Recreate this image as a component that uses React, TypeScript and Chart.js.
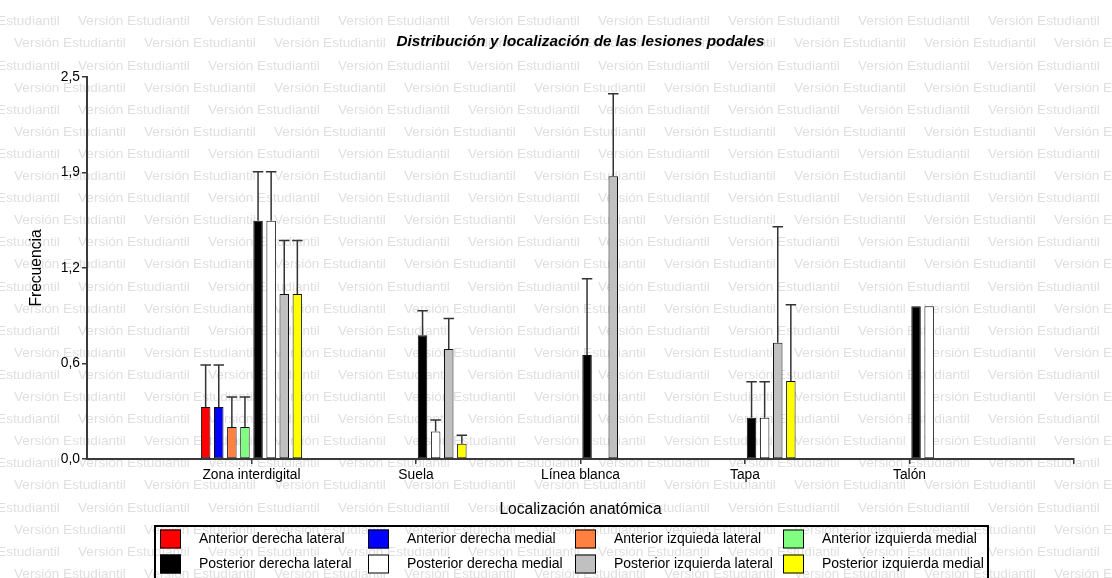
import React, { useEffect, useRef } from 'react';
import Chart from 'chart.js/auto';

const chartTitle = 'Distribución y localización de las lesiones podales';
const xTitle = 'Localización anatómica';
const yTitle = 'Frecuencia';
const watermarkText = 'Versión Estudiantil';

const categories = ['Zona interdigital', 'Suela', 'Línea blanca', 'Tapa', 'Talón'];
const yTickValues = [0, 0.625, 1.25, 1.875, 2.5];
const yTickLabels = ['0,0', '0,6', '1,2', '1,9', '2,5'];

const seriesLabels = [
  'Anterior derecha lateral',
  'Anterior derecha medial',
  'Anterior izquieda lateral',
  'Anterior izquierda medial',
  'Posterior derecha lateral',
  'Posterior derecha medial',
  'Posterior izquierda lateral',
  'Posterior izquierda medial',
];
const seriesColors = ['#ff0000', '#0000ff', '#ff8040', '#80ff80', '#000000', '#ffffff', '#c0c0c0', '#ffff00'];

// means
const anteriorDerechaLateral = [0.34, null, null, null, null];
const anteriorDerechaMedial = [0.34, null, null, null, null];
const anteriorIzquierdaLateral = [0.21, null, null, null, null];
const anteriorIzquierdaMedial = [0.21, null, null, null, null];
const posteriorDerechaLateral = [1.56, 0.81, 0.68, 0.27, 1.0];
const posteriorDerechaMedial = [1.56, 0.18, null, 0.27, 1.0];
const posteriorIzquierdaLateral = [1.08, 0.72, 1.85, 0.76, null];
const posteriorIzquierdaMedial = [1.08, 0.1, null, 0.51, null];

// error (upper) values
const anteriorDerechaLateralErr = [0.275, null, null, null, null];
const anteriorDerechaMedialErr = [0.275, null, null, null, null];
const anteriorIzquierdaLateralErr = [0.195, null, null, null, null];
const anteriorIzquierdaMedialErr = [0.195, null, null, null, null];
const posteriorDerechaLateralErr = [0.32, 0.16, 0.5, 0.235, 0];
const posteriorDerechaMedialErr = [0.32, 0.075, null, 0.235, 0];
const posteriorIzquierdaLateralErr = [0.35, 0.2, 0.54, 0.76, null];
const posteriorIzquierdaMedialErr = [0.35, 0.055, null, 0.5, null];

const seriesValues = [
  anteriorDerechaLateral,
  anteriorDerechaMedial,
  anteriorIzquierdaLateral,
  anteriorIzquierdaMedial,
  posteriorDerechaLateral,
  posteriorDerechaMedial,
  posteriorIzquierdaLateral,
  posteriorIzquierdaMedial,
];
const seriesErrors = [
  anteriorDerechaLateralErr,
  anteriorDerechaMedialErr,
  anteriorIzquierdaLateralErr,
  anteriorIzquierdaMedialErr,
  posteriorDerechaLateralErr,
  posteriorDerechaMedialErr,
  posteriorIzquierdaLateralErr,
  posteriorIzquierdaMedialErr,
];

const FONT = '"Liberation Sans", Arial, sans-serif';
const AXIS_COLOR = '#3a3a3a';

const watermarkPlugin = {
  id: 'watermark',
  beforeDraw(chart: any) {
    const ctx = chart.ctx;
    ctx.save();
    ctx.fillStyle = '#ffffff';
    ctx.fillRect(0, 0, chart.width, chart.height);
    ctx.font = `13.6px ${FONT}`;
    ctx.fillStyle = '#dfdfdf';
    ctx.textBaseline = 'middle';
    ctx.textAlign = 'left';
    for (let k = 0; k < 27; k++) {
      const y = 21.6 + 22.1 * k;
      const start = k % 2 === 0 ? 78 - 130 : 14;
      for (let x = start; x < chart.width; x += 130) {
        ctx.fillText(watermarkText, x, y);
      }
    }
    ctx.restore();
  },
};

const errorBarPlugin = {
  id: 'errorBars',
  afterDatasetsDraw(chart: any) {
    const ctx = chart.ctx;
    const yScale = chart.scales.y;
    chart.data.datasets.forEach((ds: any, di: number) => {
      const meta = chart.getDatasetMeta(di);
      meta.data.forEach((el: any, i: number) => {
        const v = ds.data[i];
        const e = ds.errors ? ds.errors[i] : null;
        if (v == null || !e) return;
        const top = yScale.getPixelForValue(v + e);
        const half = el.width / 2 + 0.5;
        ctx.save();
        ctx.strokeStyle = '#333333';
        ctx.lineWidth = 1.5;
        ctx.beginPath();
        ctx.moveTo(el.x, el.y);
        ctx.lineTo(el.x, top);
        ctx.moveTo(el.x - half, top);
        ctx.lineTo(el.x + half, top);
        ctx.stroke();
        ctx.restore();
      });
    });
  },
};

const titleLegendPlugin = {
  id: 'titleLegend',
  afterDraw(chart: any) {
    const ctx = chart.ctx;
    const area = chart.chartArea;
    ctx.save();
    // title
    ctx.font = `italic bold 15.3px ${FONT}`;
    ctx.fillStyle = '#000000';
    ctx.textAlign = 'center';
    ctx.textBaseline = 'middle';
    ctx.fillText(chartTitle, (area.left + area.right) / 2, 42);

    // legend
    ctx.lineWidth = 2;
    ctx.strokeStyle = '#000000';
    ctx.strokeRect(155, 526, 833, 60);
    const colX = [160, 368, 575, 783];
    const rowY = [529.5, 554.5];
    ctx.font = `14px ${FONT}`;
    ctx.textAlign = 'left';
    chart.data.datasets.forEach((ds: any, i: number) => {
      const col = i % 4;
      const row = Math.floor(i / 4);
      const x = colX[col];
      const y = rowY[row];
      ctx.fillStyle = ds.backgroundColor;
      ctx.fillRect(x, y, 21, 19);
      ctx.lineWidth = 1;
      ctx.strokeStyle = '#000000';
      ctx.strokeRect(x + 0.5, y + 0.5, 20, 18);
      ctx.fillStyle = '#000000';
      ctx.fillText(ds.label, x + 39, y + 10);
    });
    ctx.restore();
  },
};

export default function App() {
  const canvasRef = useRef<HTMLCanvasElement | null>(null);

  useEffect(() => {
    if (!canvasRef.current) return;
    const labels = ['', ...categories, ''];
    const datasets = seriesLabels.map((label, i) => ({
      label,
      data: [null, ...seriesValues[i], null],
      errors: [null, ...seriesErrors[i], null],
      backgroundColor: seriesColors[i],
      borderColor: '#111111',
      borderWidth: 1,
      borderSkipped: false,
      categoryPercentage: 0.637,
      barPercentage: 0.725,
    }));

    const chart = new Chart(canvasRef.current, {
      type: 'bar',
      data: { labels, datasets: datasets as any },
      options: {
        responsive: false,
        animation: false,
        devicePixelRatio: 1,
        layout: { padding: { left: 0, right: 38, top: 77, bottom: 0 } },
        plugins: {
          legend: { display: false },
          title: { display: false },
          tooltip: { enabled: false },
        },
        scales: {
          x: {
            type: 'category',
            offset: false,
            grid: {
              display: true,
              offset: false,
              drawOnChartArea: false,
              drawTicks: true,
              tickLength: 5,
              lineWidth: 1.5,
              color: (c: any) => (c.index === 0 ? 'rgba(0,0,0,0)' : AXIS_COLOR),
            },
            border: { display: true, color: AXIS_COLOR, width: 2 },
            ticks: {
              color: '#000000',
              font: { family: FONT, size: 13.8 },
              padding: 3,
              autoSkip: false,
              maxRotation: 0,
            },
            title: {
              display: true,
              text: xTitle,
              color: '#000000',
              font: { family: FONT, size: 15.6 },
              padding: { top: 0, bottom: 58.5 },
            },
            afterFit: (scale: any) => {
              scale.height = 119;
            },
          },
          y: {
            min: 0,
            max: 2.5,
            afterBuildTicks: (scale: any) => {
              scale.ticks = yTickValues.map((v) => ({ value: v }));
            },
            grid: {
              display: true,
              drawOnChartArea: false,
              drawTicks: true,
              tickLength: 5,
              lineWidth: 1.5,
              color: AXIS_COLOR,
            },
            border: { display: true, color: AXIS_COLOR, width: 2 },
            ticks: {
              color: '#000000',
              font: { family: FONT, size: 13.8 },
              padding: 2,
              callback: (_v: any, index: number) => yTickLabels[index],
            },
            title: {
              display: true,
              text: yTitle,
              color: '#000000',
              font: { family: FONT, size: 15.6 },
              padding: { top: 27.5, bottom: 0 },
            },
            afterFit: (scale: any) => {
              scale.width = 87;
            },
          },
        },
      },
      plugins: [watermarkPlugin, errorBarPlugin, titleLegendPlugin],
    });
    return () => chart.destroy();
  }, []);

  return (
    <div style={{ position: 'fixed', left: 0, top: 0, width: 1112, height: 578, background: '#ffffff' }}>
      <canvas ref={canvasRef} width={1112} height={578} style={{ display: 'block' }} />
    </div>
  );
}
